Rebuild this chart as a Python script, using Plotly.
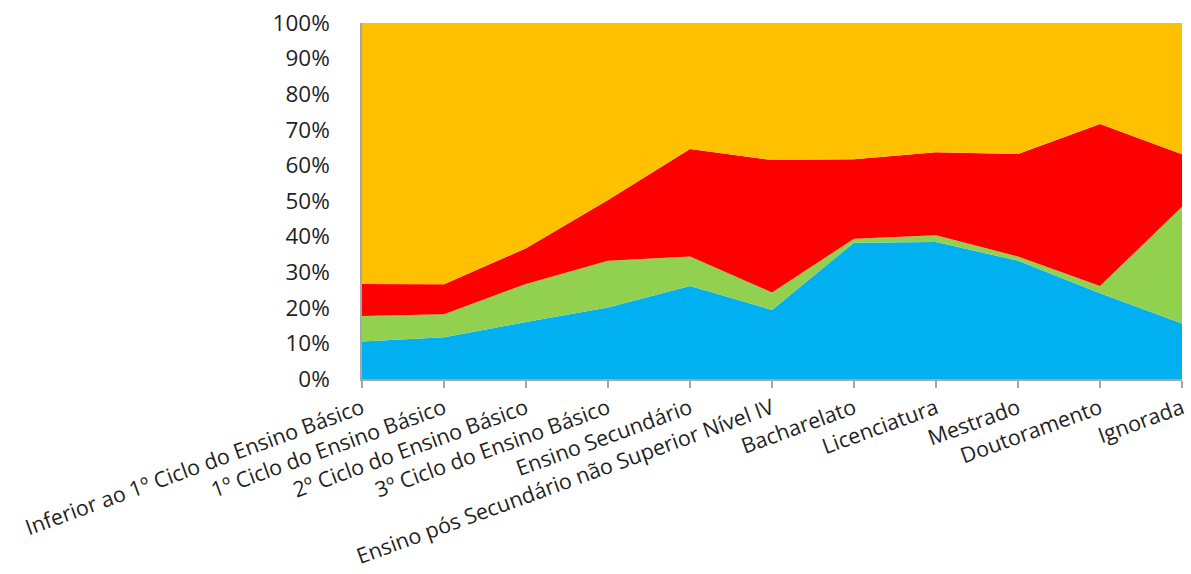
import plotly.graph_objects as go

categories = [
    "Inferior ao 1º Ciclo do Ensino Básico",
    "1º Ciclo do Ensino Básico",
    "2º Ciclo do Ensino Básico",
    "3º Ciclo do Ensino Básico",
    "Ensino Secundário",
    "Ensino pós Secundário não Superior Nível IV",
    "Bacharelato",
    "Licenciatura",
    "Mestrado",
    "Doutoramento",
    "Ignorada",
]

blue = [10.5, 11.7, 16.0, 20.1, 26.1, 19.4, 38.3, 38.5, 33.2, 24.1, 15.6]
green = [7.2, 6.5, 10.7, 13.1, 8.3, 4.9, 1.1, 1.9, 1.2, 2.0, 32.8]
red = [9.0, 8.4, 10.0, 17.1, 30.2, 37.2, 22.3, 23.3, 28.8, 45.5, 14.7]
orange = [73.3, 73.4, 63.3, 49.7, 35.4, 38.5, 38.3, 36.3, 36.8, 28.4, 36.9]

series = [
    ("Série 1", blue, "#00B0F0"),
    ("Série 2", green, "#92D050"),
    ("Série 3", red, "#FF0000"),
    ("Série 4", orange, "#FFC000"),
]

fig = go.Figure()
for name, vals, col in series:
    fig.add_trace(go.Scatter(
        x=categories, y=vals, name=name, mode="none",
        stackgroup="one", groupnorm="percent",
        fill="tonexty", fillcolor=col, hoverinfo="skip",
    ))

family = "Open Sans, Liberation Sans, sans-serif"
xfont = dict(family=family, size=21.5, color="#1f1f1f")
yfont = dict(family=family, size=22.5, color="#1f1f1f")

fig.update_layout(
    width=1191, height=574,
    margin=dict(l=362, r=9, t=23, b=195),
    paper_bgcolor="white", plot_bgcolor="white",
    showlegend=False,
    font=xfont,
    xaxis=dict(
        type="category", range=[0, 10], automargin=False,
        showgrid=False, zeroline=False,
        showline=True, linecolor="#A6A6A6", linewidth=1.5,
        ticks="outside", ticklen=7, tickcolor="#A6A6A6", tickwidth=1.5,
        tickangle=-20, tickfont=xfont,
    ),
    yaxis=dict(
        range=[0, 100], dtick=10, ticksuffix="%", automargin=False,
        showgrid=False, zeroline=False,
        showline=True, linecolor="#A6A6A6", linewidth=1.5,
        ticks="", ticklabelstandoff=26, tickfont=yfont,
    ),
)

fig.write_html("out.html")
